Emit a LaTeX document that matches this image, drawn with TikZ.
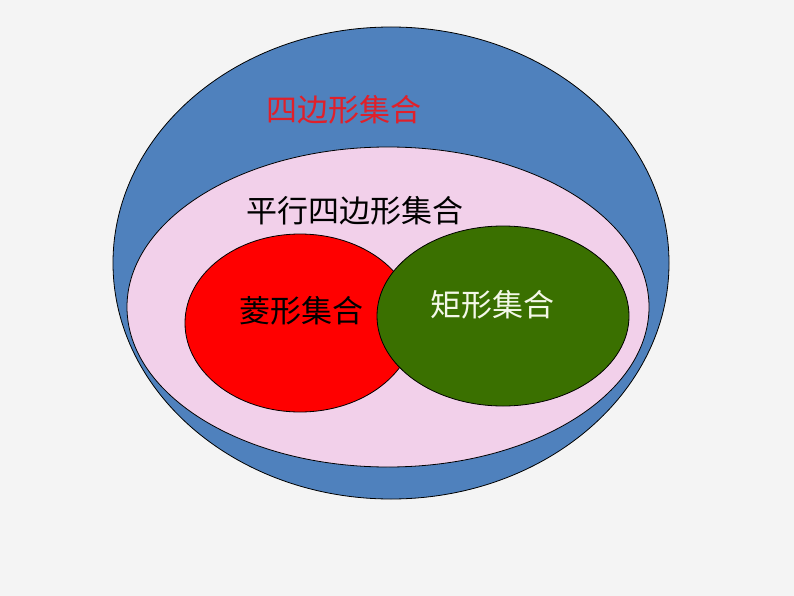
\documentclass[tikz,border=0pt]{standalone}
\usepackage{fontspec}
\newfontfamily\cjk{Noto Sans CJK SC}
\definecolor{bg}{HTML}{F4F4F4}
\definecolor{outerblue}{HTML}{4F81BD}
\definecolor{pinkfill}{HTML}{F2D0EA}
\definecolor{redfill}{HTML}{FF0000}
\definecolor{greenfill}{HTML}{3A7000}
\definecolor{titlered}{HTML}{E0202A}
\definecolor{lighttext}{HTML}{F4F8E8}
\tikzset{
  setshape/.style={draw=black, line width=0.8pt},
  lbl/.style={font=\cjk\fontsize{31}{34}\selectfont, inner sep=0pt}
}
\begin{document}
\begin{tikzpicture}[x=1pt,y=-1pt]
\path[fill=bg] (0,0) rectangle (794,596);
\useasboundingbox (0,0) rectangle (794,596);
\path[setshape, fill=outerblue] (391,263) ellipse [x radius=278, y radius=236];
\path[setshape, fill=pinkfill] (388,307) ellipse [x radius=261, y radius=160];
\path[setshape, fill=redfill] (300,323) ellipse [x radius=115, y radius=89];
\path[setshape, fill=greenfill] (503,316) ellipse [x radius=126, y radius=90];
\node[lbl, text=titlered] (quad) at (344,110) {四边形集合};
\node[lbl, text=black] (para) at (355,211) {平行四边形集合};
\node[lbl, text=black] (rhomb) at (301,311) {菱形集合};
\node[lbl, text=lighttext] (rect) at (492,305) {矩形集合};
\end{tikzpicture}
\end{document}
